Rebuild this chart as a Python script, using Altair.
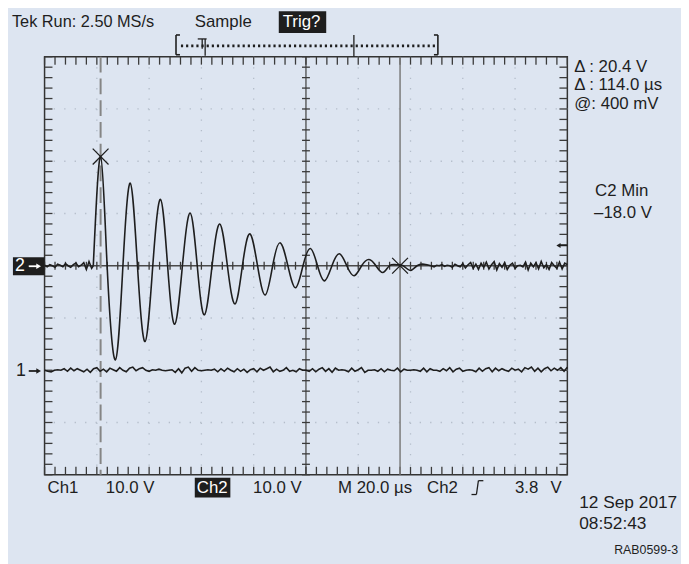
import altair as alt
import pandas as pd
import numpy as np

# ---------------- data ----------------
# time axis in microseconds (10 div x 20 us), Ch2 in volts (8 div x 10 V)
pre_t = [0, 1, 2, 3, 4, 5, 6, 7, 8, 9, 10, 11, 12, 13, 14, 15, 16, 17, 18, 18.64]
pre_v = [0.1, -0.2, 0.2, 0.0, -0.3, 0.3, 0.1, -0.2, 0.4, 0.0, -0.3, 0.2, 0.5, -0.2,
         0.1, 0.6, -0.7, 0.8, -0.5, 0.0]

osc_t = [18.64, 21.44, 23.93, 27.11, 29.98, 32.78, 35.54, 38.45, 41.40, 44.35, 47.07,
         49.79, 52.74, 55.69, 58.41, 61.13, 64.08, 67.03, 69.94, 72.85, 75.69, 78.53,
         81.47, 84.42, 87.26, 90.09, 93.08, 96.03, 98.87, 101.70, 104.42, 107.11,
         109.94, 112.78, 115.61, 118.45, 121.29, 124.12, 126.77, 129.41, 131.95,
         134.59, 137.2, 139.89, 142.5, 145.2, 147.8]
osc_v = [0, 20.9, 0, -18.0, 0, 15.8, 0, -14.5, 0, 12.7, 0, -11.2, 0, 10.1, 0, -9.4, 0,
         8.0, 0, -7.3, 0, 6.1, 0, -5.6, 0, 4.4, 0, -4.2, 0, 3.3, 0, -2.9, 0, 2.3, 0, -1.9,
         0, 1.2, 0, -1.3, 0, 0.2, 0, -0.9, 0, 0.3, 0]

post_t = [147.8] + list(range(149, 201))
post_v = [0.0, -0.2, 0.1, 0.0, 0.2, -0.1, 0.1, 0.0, -0.3, 0.3, 0.0, -0.2, 0.4, -0.4,
          0.2, 0.6, -0.5, 0.3, -0.7, 0.5, -0.3, 0.7, -0.6, 0.2, 0.8, -0.8, 0.4, -0.3,
          0.6, -0.7, 0.1, 0.5, -0.5, 0.0, 0.1, -0.2, 0.7, -0.8, 0.5, -0.2, 0.6, -0.6,
          0.8, -0.4, 0.2, -0.7, 0.6, 0.0, -0.5, 0.7, -0.6, 0.5, 0.2]

ch1_step = 1.25  # sample spacing used for the Ch1 trace (us)
ch1_v = [0.0, -0.2, -0.3, 0.0, 0.1, 0.0, 0.3, -0.2, 0.4, -0.1, 0.3, 0.0,
         -0.3, 0.2, -0.4, 0.3, 0.5, -0.2, 0.2, -0.3, 0.4, 0.1, -0.2, 0.5,
         0.0, -0.3, 0.4, 0.6, -0.1, 0.3, 0.5, 0.0, -0.2, 0.1, 0.0, 0.2,
         0.0, -0.1, 0.0, 0.1, -0.4, 0.3, -0.5, 0.4, 0.6, -0.2, 0.5, 0.0,
         -0.1, 0.0, 0.1, 0.0, 0.2, -0.3, 0.3, -0.2, 0.4, 0.0, -0.3, 0.3,
         -0.2, 0.2, -0.4, 0.1, 0.3, -0.3, 0.4, 0.0, 0.3, 0.6, -0.3, 0.2,
         -0.2, 0.0, 0.5, -0.2, 0.0, -0.3, 0.3, 0.0, 0.0, -0.2, 0.3, -0.3,
         0.2, 0.5, -0.2, 0.3, -0.4, 0.4, 0.0, 0.1, 0.0, -0.3, 0.4, -0.2,
         0.1, 0.5, -0.4, 0.0, 0.0, 0.1, -0.2, 0.3, -0.3, 0.2, 0.0, -0.1,
         0.4, -0.3, 0.2, 0.0, 0.0, 0.1, 0.0, -0.2, 0.4, -0.3, 0.3, 0.0,
         0.0, -0.2, 0.3, -0.1, 0.5, -0.3, 0.2, 0.4, -0.2, 0.0, 0.1, 0.0,
         -0.3, 0.4, -0.2, 0.3, 0.5, -0.3, 0.4, -0.1, 0.3, 0.0, -0.2, 0.4,
         0.0, 0.2, -0.3, 0.5, 0.2, 0.6, -0.2, 0.4, -0.3, 0.3, 0.6, -0.1,
         0.4, 0.0, 0.5, -0.2, 0.6]
ch1_offset = -20  # Ch1 ground marker two divisions below centre

cursor_t = [21.44, 136.0]
marker_t = [21.44, 136.0]
marker_v = [20.9, 0.0]

# ---------------- layout / style ----------------
W, H = 529, 423
OX, OY = 45, 54          # page position of plot area
BG = "#dde5f1"
INK = "#1e1e1e"
FONT = "Liberation Sans, Arial, Helvetica, sans-serif"
XD, YD = [0, 200], [-40, 40]

xs = alt.Scale(domain=XD, nice=False, zero=False)
ys = alt.Scale(domain=YD, nice=False, zero=False)

def X(f):
    return alt.X(f, type="quantitative", scale=xs, axis=None)

def Y(f):
    return alt.Y(f, type="quantitative", scale=ys, axis=None)

layers = []

# dotted graticule
vgrid = pd.DataFrame({"t": [20, 40, 60, 80, 120, 140, 160, 180]})
hgrid = pd.DataFrame({"v": [-30, -20, -10, 10, 20, 30]})
dot = dict(color="#b4bdca", strokeWidth=1.3, strokeDash=[1.3, 9.28])
layers.append(alt.Chart(vgrid).mark_rule(**dot).encode(x=X("t")))
layers.append(alt.Chart(hgrid).mark_rule(**dot).encode(y=Y("v")))

# centre cross
layers.append(alt.Chart(pd.DataFrame({"t": [100]})).mark_rule(color="#4a4a4a", strokeWidth=1.3).encode(x=X("t")))
layers.append(alt.Chart(pd.DataFrame({"v": [0]})).mark_rule(color="#4a4a4a", strokeWidth=1.3).encode(y=Y("v")))

tick_t = np.arange(0, 200.01, 4.0)
tick_v = np.arange(-40, 40.01, 2.0)
dx = 8 * 200 / W      # 8 px in time units
dy = 8 * 80 / H       # 8 px in volt units
tk = dict(color="#3a3a3a", strokeWidth=1.3)
# centre-line ticks
layers.append(alt.Chart(pd.DataFrame({"t": tick_t, "a": -dy / 2, "b": dy / 2}))
              .mark_rule(**tk).encode(x=X("t"), y=Y("a"), y2="b"))
layers.append(alt.Chart(pd.DataFrame({"v": tick_v, "a": 100 - dx / 2, "b": 100 + dx / 2}))
              .mark_rule(**tk).encode(y=Y("v"), x=X("a"), x2="b"))
# frame ticks (inward)
layers.append(alt.Chart(pd.DataFrame({"t": tick_t, "a": 40.0, "b": 40 - dy}))
              .mark_rule(**tk).encode(x=X("t"), y=Y("a"), y2="b"))
layers.append(alt.Chart(pd.DataFrame({"t": tick_t, "a": -40.0, "b": -40 + dy}))
              .mark_rule(**tk).encode(x=X("t"), y=Y("a"), y2="b"))
layers.append(alt.Chart(pd.DataFrame({"v": tick_v, "a": 0.0, "b": dx}))
              .mark_rule(**tk).encode(y=Y("v"), x=X("a"), x2="b"))
layers.append(alt.Chart(pd.DataFrame({"v": tick_v, "a": 200.0, "b": 200 - dx}))
              .mark_rule(**tk).encode(y=Y("v"), x=X("a"), x2="b"))

# cursors
layers.append(alt.Chart(pd.DataFrame({"t": cursor_t[:1]})).mark_rule(color="#858585", strokeWidth=2, strokeDash=[16, 6]).encode(x=X("t")))
layers.append(alt.Chart(pd.DataFrame({"t": cursor_t[1:]})).mark_rule(color="#7a7a7a", strokeWidth=1.5).encode(x=X("t")))

# traces
ch1 = pd.DataFrame({"t": np.arange(len(ch1_v)) * ch1_step, "v": np.array(ch1_v) + ch1_offset})
line = dict(color=INK, strokeWidth=1.6)
layers.append(alt.Chart(ch1).mark_line(**line).encode(x=X("t"), y=Y("v")))
layers.append(alt.Chart(pd.DataFrame({"t": pre_t, "v": pre_v})).mark_line(**line).encode(x=X("t"), y=Y("v")))
layers.append(alt.Chart(pd.DataFrame({"t": osc_t, "v": osc_v})).mark_line(interpolate="natural", **line).encode(x=X("t"), y=Y("v")))
layers.append(alt.Chart(pd.DataFrame({"t": post_t, "v": post_v})).mark_line(**line).encode(x=X("t"), y=Y("v")))

# cursor markers
layers.append(alt.Chart(pd.DataFrame({"t": marker_t, "v": marker_v}))
              .mark_point(shape="M-1,-1L1,1M1,-1L-1,1", size=256, filled=False, color=INK, strokeWidth=1.3, opacity=1)
              .encode(x=X("t"), y=Y("v")))

# ---------------- annotations (page pixel coordinates) ----------------
one = pd.DataFrame({"k": [0]})

def txt(s, px, py, size=17, color=INK, align="left", font=FONT, weight="normal"):
    return alt.Chart(one).mark_text(text=s, align=align, baseline="middle", fontSize=size,
                                    color=color, font=font, fontWeight=weight).encode(
        x=alt.value(px - OX), y=alt.value(py - OY))

def box(x0, y0, x1, y1, color=INK):
    return alt.Chart(one).mark_rect(color=color).encode(
        x=alt.value(x0 - OX), x2=alt.value(x1 - OX), y=alt.value(y0 - OY), y2=alt.value(y1 - OY))

def seg(x0, y0, x1, y1, color=INK, w=1.5, dash=None):
    kw = dict(color=color, strokeWidth=w)
    if dash:
        kw["strokeDash"] = dash
    return alt.Chart(one).mark_rule(**kw).encode(
        x=alt.value(x0 - OX), x2=alt.value(x1 - OX), y=alt.value(y0 - OY), y2=alt.value(y1 - OY))

def head(px, py, shape, color=INK, size=40):
    return alt.Chart(one).mark_point(shape=shape, filled=True, size=size, color=color, opacity=1).encode(
        x=alt.value(px - OX), y=alt.value(py - OY))

# header
layers.append(txt("Tek Run: 2.50 MS/s", 12, 19, 16.5))
layers.append(txt("Sample", 197, 19, 17))
layers.append(box(282, 8, 330, 30))
layers.append(txt("Trig?", 286, 19, 17, color="white"))

# record bar
layers.append(seg(178, 32, 178, 52, w=1.6))
layers.append(seg(178, 32, 182, 32, w=1.6))
layers.append(seg(178, 52, 182, 52, w=1.6))
layers.append(seg(443, 32, 443, 52, w=1.6))
layers.append(seg(439, 32, 443, 32, w=1.6))
layers.append(seg(439, 52, 443, 52, w=1.6))
layers.append(seg(183, 43, 440, 43, w=2.6, dash=[2.2, 3.0]))
layers.append(seg(200, 36, 209, 36, w=1.3))
layers.append(seg(204.5, 36, 204.5, 46, w=1.3))
layers.append(seg(207.5, 36, 207.5, 53, w=1.3))
layers.append(seg(358, 32, 358, 54, w=1.3))

# right-hand readouts
layers.append(txt("\u0394 : 20.4 V", 581, 64, 17))
layers.append(txt("\u0394 : 114.0 \u00b5s", 581, 83, 17))
layers.append(txt("@: 400 mV", 581, 102, 17))
layers.append(txt("C2 Min", 602, 190, 17))
layers.append(txt("\u201318.0 V", 601, 212, 17))

# channel markers
layers.append(box(13, 257, 45, 275))
layers.append(txt("2", 15, 266, 18, color="white"))
layers.append(seg(29, 266, 38, 266, color="white", w=1.8))
layers.append(head(39, 266, "triangle-right", color="white", size=30))
layers.append(txt("1", 16, 372, 18))
layers.append(seg(29, 372, 38, 372, w=1.8))
layers.append(head(39, 372, "triangle-right", size=30))
# trigger level arrow
layers.append(seg(566, 245, 574, 245, w=1.5))
layers.append(head(565, 245, "triangle-left", size=24))

# bottom status line
layers.append(txt("Ch1", 48, 490))
layers.append(txt("10.0 V", 107, 490))
layers.append(box(197, 480, 233, 500))
layers.append(txt("Ch2", 199, 490, color="white"))
layers.append(txt("10.0 V", 256, 490))
layers.append(txt("M 20.0 \u00b5s", 342, 490))
layers.append(txt("Ch2", 432, 490))
layers.append(seg(477, 497, 482, 497, w=1.3))
layers.append(seg(482, 497, 484, 483, w=1.3))
layers.append(seg(484, 483, 489, 483, w=1.3))
layers.append(txt("3.8", 521, 490))
layers.append(txt("V", 557, 490))
layers.append(txt("12 Sep 2017", 586, 506, 17.5))
layers.append(txt("08:52:43", 586, 527, 17.5))
layers.append(txt("RAB0599-3", 686, 553, 12.5, align="right"))

chart = alt.layer(*layers).properties(
    width=W, height=H,
    padding={"left": OX - 8, "top": OY - 8, "right": 681 - (OX - 8) - W, "bottom": 556 - (OY - 8) - H},
    autosize=alt.AutoSizeParams(type="none"),
    background=BG,
).configure_view(stroke="#333333", strokeWidth=1.5)

chart.save("out.html", embed_options={"renderer": "svg", "actions": False})
